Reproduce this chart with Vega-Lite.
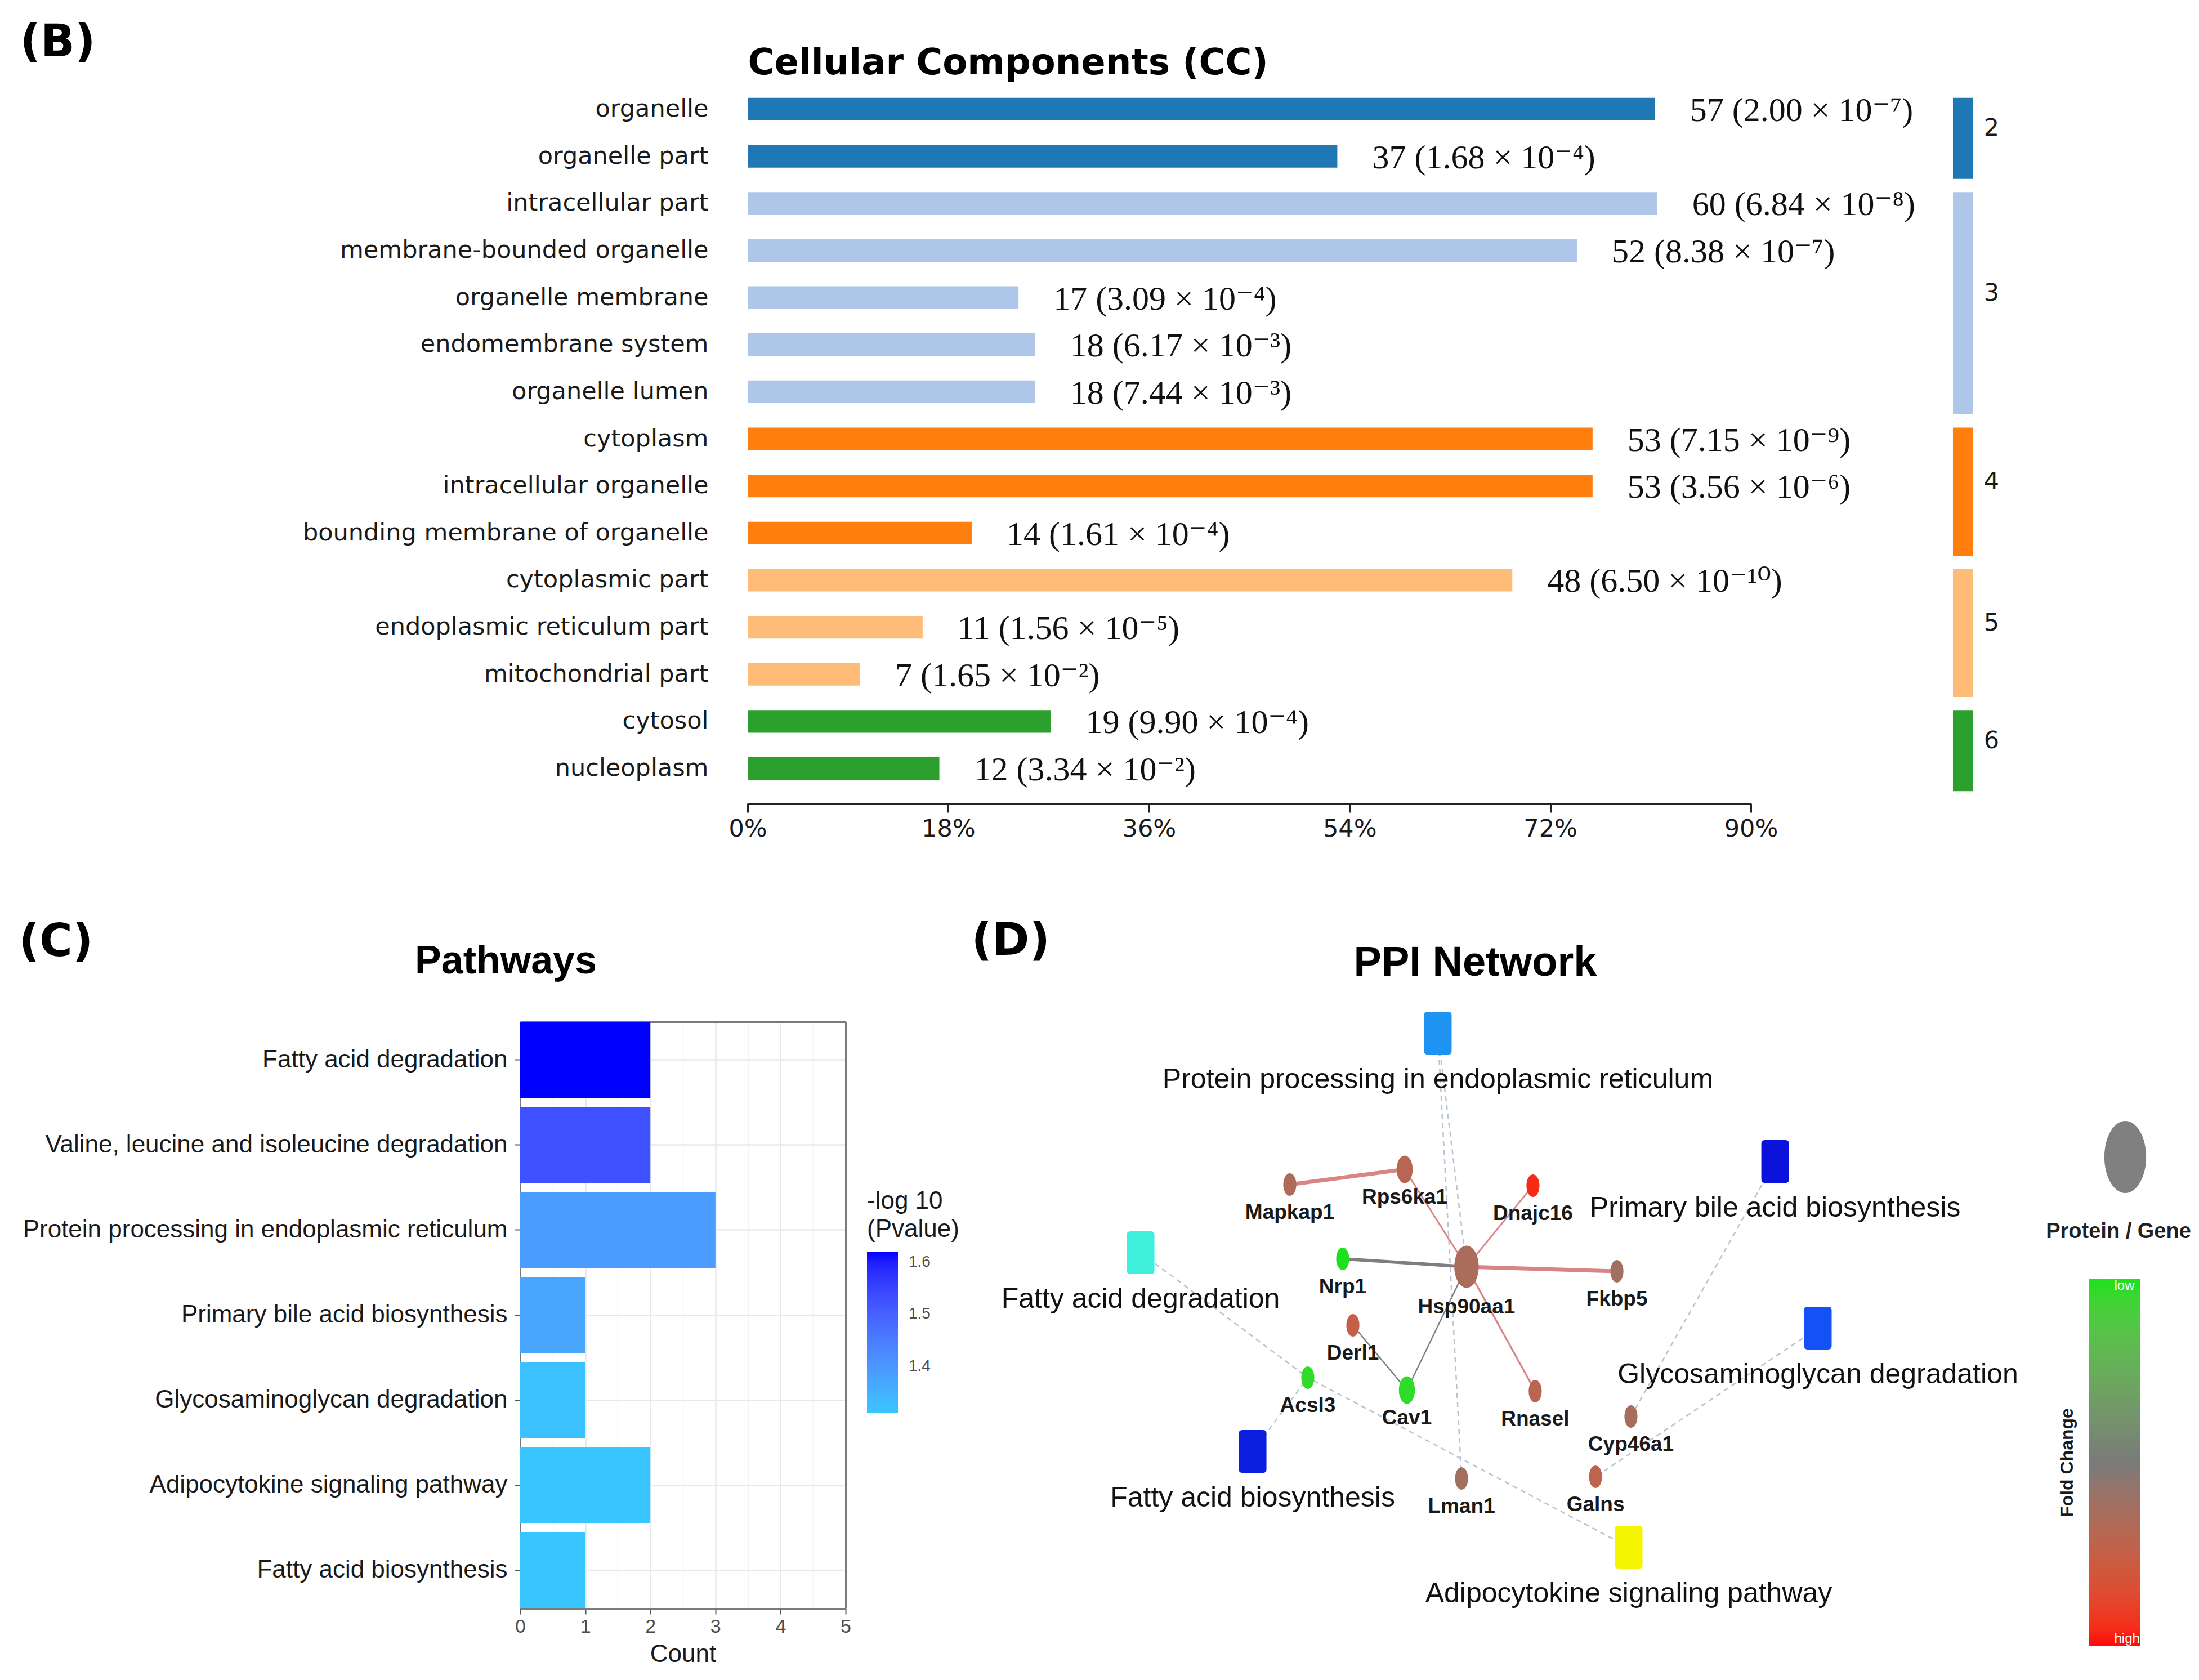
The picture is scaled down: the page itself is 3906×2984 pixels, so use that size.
{
  "$schema": "https://vega.github.io/schema/vega-lite/v6.json",
  "width": 3906,
  "height": 2984,
  "autosize": {"type": "none"},
  "padding": 0,
  "background": "white",
  "config": {
    "view": {"stroke": null},
    "axis": {"labelLimit": 3000, "titleLimit": 3000},
    "legend": {"labelLimit": 3000, "titleLimit": 3000}
  },
  "datasets": {
    "cc": [
      {"term": "organelle", "cluster": "2", "count": 57, "pct": 81.4, "label": "57 (2.00 × 10⁻⁷)"},
      {"term": "organelle part", "cluster": "2", "count": 37, "pct": 52.9, "label": "37 (1.68 × 10⁻⁴)"},
      {"term": "intracellular part", "cluster": "3", "count": 60, "pct": 81.6, "label": "60 (6.84 × 10⁻⁸)"},
      {"term": "membrane-bounded organelle", "cluster": "3", "count": 52, "pct": 74.4, "label": "52 (8.38 × 10⁻⁷)"},
      {"term": "organelle membrane", "cluster": "3", "count": 17, "pct": 24.3, "label": "17 (3.09 × 10⁻⁴)"},
      {"term": "endomembrane system", "cluster": "3", "count": 18, "pct": 25.8, "label": "18 (6.17 × 10⁻³)"},
      {"term": "organelle lumen", "cluster": "3", "count": 18, "pct": 25.8, "label": "18 (7.44 × 10⁻³)"},
      {"term": "cytoplasm", "cluster": "4", "count": 53, "pct": 75.8, "label": "53 (7.15 × 10⁻⁹)"},
      {"term": "intracellular organelle", "cluster": "4", "count": 53, "pct": 75.8, "label": "53 (3.56 × 10⁻⁶)"},
      {"term": "bounding membrane of organelle", "cluster": "4", "count": 14, "pct": 20.1, "label": "14 (1.61 × 10⁻⁴)"},
      {"term": "cytoplasmic part", "cluster": "5", "count": 48, "pct": 68.6, "label": "48 (6.50 × 10⁻¹⁰)"},
      {"term": "endoplasmic reticulum part", "cluster": "5", "count": 11, "pct": 15.7, "label": "11 (1.56 × 10⁻⁵)"},
      {"term": "mitochondrial part", "cluster": "5", "count": 7, "pct": 10.1, "label": "7 (1.65 × 10⁻²)"},
      {"term": "cytosol", "cluster": "6", "count": 19, "pct": 27.2, "label": "19 (9.90 × 10⁻⁴)"},
      {"term": "nucleoplasm", "cluster": "6", "count": 12, "pct": 17.2, "label": "12 (3.34 × 10⁻²)"}
    ],
    "clusters": [
      {"cluster": "2", "first": "organelle", "last": "organelle part", "labelRow": "organelle", "rows": 2},
      {"cluster": "3", "first": "intracellular part", "last": "organelle lumen", "labelRow": "organelle membrane", "rows": 5},
      {"cluster": "4", "first": "cytoplasm", "last": "bounding membrane of organelle", "labelRow": "intracellular organelle", "rows": 3},
      {"cluster": "5", "first": "cytoplasmic part", "last": "mitochondrial part", "labelRow": "endoplasmic reticulum part", "rows": 3},
      {"cluster": "6", "first": "cytosol", "last": "nucleoplasm", "labelRow": "cytosol", "rows": 2}
    ],
    "pw": [
      {"pathway": "Fatty acid degradation", "count": 2, "logp": 1.62},
      {"pathway": "Valine, leucine and isoleucine degradation", "count": 2, "logp": 1.53},
      {"pathway": "Protein processing in endoplasmic reticulum", "count": 3, "logp": 1.39},
      {"pathway": "Primary bile acid biosynthesis", "count": 1, "logp": 1.37},
      {"pathway": "Glycosaminoglycan degradation", "count": 1, "logp": 1.32},
      {"pathway": "Adipocytokine signaling pathway", "count": 2, "logp": 1.31},
      {"pathway": "Fatty acid biosynthesis", "count": 1, "logp": 1.31}
    ],
    "nodes": [
      {"id": "Protein processing in endoplasmic reticulum", "type": "pathway", "u": 38.71, "v": 18.16},
      {"id": "Fatty acid degradation", "type": "pathway", "u": 14.78, "v": 45.94},
      {"id": "Primary bile acid biosynthesis", "type": "pathway", "u": 65.87, "v": 34.40},
      {"id": "Glycosaminoglycan degradation", "type": "pathway", "u": 69.31, "v": 55.48},
      {"id": "Fatty acid biosynthesis", "type": "pathway", "u": 23.80, "v": 71.08},
      {"id": "Adipocytokine signaling pathway", "type": "pathway", "u": 54.08, "v": 83.19},
      {"id": "Mapkap1", "type": "gene", "u": 26.79, "v": 37.32, "fc": 0.32, "degree": 1},
      {"id": "Rps6ka1", "type": "gene", "u": 36.04, "v": 35.40, "fc": 0.38, "degree": 2},
      {"id": "Dnajc16", "type": "gene", "u": 46.37, "v": 37.46, "fc": 0.92, "degree": 1},
      {"id": "Hsp90aa1", "type": "gene", "u": 41.02, "v": 47.72, "fc": 0.30, "degree": 6},
      {"id": "Nrp1", "type": "gene", "u": 31.05, "v": 46.72, "fc": -1.0, "degree": 1},
      {"id": "Fkbp5", "type": "gene", "u": 53.13, "v": 48.29, "fc": 0.25, "degree": 1},
      {"id": "Derl1", "type": "gene", "u": 31.87, "v": 55.13, "fc": 0.50, "degree": 1},
      {"id": "Acsl3", "type": "gene", "u": 28.24, "v": 61.75, "fc": -0.95, "degree": 1},
      {"id": "Cav1", "type": "gene", "u": 36.22, "v": 63.32, "fc": -0.95, "degree": 2},
      {"id": "Rnasel", "type": "gene", "u": 46.55, "v": 63.46, "fc": 0.40, "degree": 1},
      {"id": "Cyp46a1", "type": "gene", "u": 54.26, "v": 66.67, "fc": 0.28, "degree": 1},
      {"id": "Lman1", "type": "gene", "u": 40.62, "v": 74.50, "fc": 0.25, "degree": 1},
      {"id": "Galns", "type": "gene", "u": 51.41, "v": 74.29, "fc": 0.45, "degree": 1}
    ],
    "edges": [
      {"source": "Mapkap1", "target": "Rps6ka1", "kind": "ppi", "regulation": "co-up", "score": 0.9},
      {"source": "Rps6ka1", "target": "Hsp90aa1", "kind": "ppi", "regulation": "co-up", "score": 0.4},
      {"source": "Dnajc16", "target": "Hsp90aa1", "kind": "ppi", "regulation": "co-up", "score": 0.4},
      {"source": "Nrp1", "target": "Hsp90aa1", "kind": "ppi", "regulation": "mixed", "score": 0.75},
      {"source": "Hsp90aa1", "target": "Fkbp5", "kind": "ppi", "regulation": "co-up", "score": 0.9},
      {"source": "Hsp90aa1", "target": "Rnasel", "kind": "ppi", "regulation": "co-up", "score": 0.45},
      {"source": "Hsp90aa1", "target": "Cav1", "kind": "ppi", "regulation": "mixed", "score": 0.35},
      {"source": "Derl1", "target": "Cav1", "kind": "ppi", "regulation": "mixed", "score": 0.35},
      {"source": "Protein processing in endoplasmic reticulum", "target": "Hsp90aa1", "kind": "pathway"},
      {"source": "Protein processing in endoplasmic reticulum", "target": "Lman1", "kind": "pathway"},
      {"source": "Fatty acid degradation", "target": "Acsl3", "kind": "pathway"},
      {"source": "Fatty acid biosynthesis", "target": "Acsl3", "kind": "pathway"},
      {"source": "Adipocytokine signaling pathway", "target": "Acsl3", "kind": "pathway"},
      {"source": "Primary bile acid biosynthesis", "target": "Cyp46a1", "kind": "pathway"},
      {"source": "Glycosaminoglycan degradation", "target": "Galns", "kind": "pathway"}
    ]
  },
  "layer": [
    {
      "layer": [
        {
          "data": {"name": "cc"},
          "mark": {"type": "bar"},
          "encoding": {
            "y": {
              "field": "term", "type": "nominal", "sort": null,
              "scale": {
                "domain": ["organelle", "organelle part", "intracellular part", "membrane-bounded organelle", "organelle membrane", "endomembrane system", "organelle lumen", "cytoplasm", "intracellular organelle", "bounding membrane of organelle", "cytoplasmic part", "endoplasmic reticulum part", "mitochondrial part", "cytosol", "nucleoplasm"],
                "range": [132, 1427], "paddingInner": 0.52, "paddingOuter": 0.5
              },
              "axis": {
                "orient": "left", "offset": -1328, "domain": false, "ticks": false, "grid": false,
                "labelPadding": 70, "labelFont": "DejaVu Sans", "labelFontSize": 43, "labelColor": "#1a1a1a",
                "title": "Cellular Components (CC)", "titleFont": "DejaVu Sans", "titleFontSize": 64, "titleFontWeight": "bold", "titleColor": "#000000",
                "titleAngle": 0, "titleAlign": "left", "titleBaseline": "alphabetic", "titleX": 0, "titleY": 131
              }
            },
            "x": {
              "field": "pct", "type": "quantitative",
              "scale": {"domain": [0, 90], "range": [1328, 3110], "nice": false},
              "axis": {
                "orient": "bottom", "offset": -1557, "values": [0, 18, 36, 54, 72, 90], "labelExpr": "datum.value + '%'",
                "labelFlush": false, "grid": false, "domainColor": "#222222", "domainWidth": 3, "tickColor": "#222222", "tickWidth": 3, "tickSize": 16,
                "labelPadding": 8, "labelFont": "DejaVu Sans", "labelFontSize": 43, "labelColor": "#1a1a1a",
                "title": "(B)", "titleFont": "DejaVu Sans", "titleFontSize": 80, "titleFontWeight": "bold", "titleColor": "#000000",
                "titleAngle": 0, "titleAlign": "left", "titleBaseline": "alphabetic", "titleX": 35, "titleY": -1328
              }
            },
            "color": {
              "field": "cluster", "type": "nominal",
              "scale": {"domain": ["2", "3", "4", "5", "6"], "range": ["#1f77b4", "#aec7e8", "#ff7f0e", "#ffbb78", "#2ca02c"]},
              "legend": null
            }
          }
        },
        {
          "data": {"name": "cc"},
          "mark": {"type": "text", "align": "left", "baseline": "middle", "dx": 62, "dy": 3, "font": "Liberation Serif, DejaVu Serif", "fontSize": 60, "color": "#111111"},
          "encoding": {
            "y": {"field": "term", "type": "nominal", "sort": null, "axis": null},
            "x": {"field": "pct", "type": "quantitative", "axis": null},
            "text": {"field": "label"}
          }
        },
        {
          "data": {"name": "clusters"},
          "mark": {"type": "rect"},
          "encoding": {
            "y": {"field": "first", "type": "nominal", "bandPosition": 0, "axis": null},
            "y2": {"field": "last", "bandPosition": 1.5},
            "x": {"datum": 108.13, "type": "quantitative", "axis": null},
            "x2": {"datum": 109.9},
            "color": {"field": "cluster", "type": "nominal", "legend": null}
          }
        },
        {
          "data": {"name": "clusters"},
          "transform": [{"filter": "datum.rows % 2 == 0"}],
          "mark": {"type": "text", "align": "left", "baseline": "middle", "font": "DejaVu Sans", "fontSize": 43, "color": "#1a1a1a"},
          "encoding": {
            "y": {"field": "labelRow", "type": "nominal", "bandPosition": 1.36, "axis": null},
            "x": {"datum": 110.9, "type": "quantitative", "axis": null},
            "text": {"field": "cluster"}
          }
        },
        {
          "data": {"name": "clusters"},
          "transform": [{"filter": "datum.rows % 2 == 1"}],
          "mark": {"type": "text", "align": "left", "baseline": "middle", "font": "DejaVu Sans", "fontSize": 43, "color": "#1a1a1a"},
          "encoding": {
            "y": {"field": "labelRow", "type": "nominal", "bandPosition": 0.32, "axis": null},
            "x": {"datum": 110.9, "type": "quantitative", "axis": null},
            "text": {"field": "cluster"}
          }
        }
      ],
      "resolve": {"axis": {"x": "independent", "y": "independent"}}
    },
    {
      "data": {"name": "pw"},
      "layer": [
        {
          "mark": {"type": "bar"},
          "encoding": {
            "y": {
              "field": "pathway", "type": "nominal", "sort": null,
              "scale": {
                "domain": ["Fatty acid degradation", "Valine, leucine and isoleucine degradation", "Protein processing in endoplasmic reticulum", "Primary bile acid biosynthesis", "Glycosaminoglycan degradation", "Adipocytokine signaling pathway", "Fatty acid biosynthesis"],
                "range": [1815, 2857], "paddingInner": 0.1, "paddingOuter": 0
              },
              "axis": {
                "orient": "left", "offset": -924, "grid": true, "gridColor": "#e8e8e8", "gridWidth": 2.5, "tickBand": "center",
                "domainColor": "#7a7a7a", "domainWidth": 3, "tickColor": "#555555", "tickWidth": 2, "tickSize": 10,
                "labelPadding": 13, "labelFont": "Liberation Sans", "labelFontSize": 44, "labelColor": "#1a1a1a",
                "title": "(C)", "titleFont": "DejaVu Sans", "titleFontSize": 80, "titleFontWeight": "bold", "titleColor": "#000000",
                "titleAngle": 0, "titleAlign": "left", "titleBaseline": "alphabetic", "titleX": -891, "titleY": 1697
              }
            },
            "x": {
              "field": "count", "type": "quantitative",
              "scale": {"domain": [0, 5], "range": [924, 1502], "nice": false},
              "axis": {
                "orient": "bottom", "offset": -127, "values": [0, 1, 2, 3, 4, 5], "grid": false,
                "domainColor": "#7a7a7a", "domainWidth": 3, "tickColor": "#555555", "tickWidth": 2, "tickSize": 10,
                "labelFlush": false, "labelFont": "Liberation Sans", "labelFontSize": 34, "labelColor": "#4d4d4d", "labelPadding": 5,
                "title": "Count", "titleFont": "Liberation Sans", "titleFontSize": 44, "titleFontWeight": "normal", "titleColor": "#1a1a1a",
                "titleAngle": 0, "titleAlign": "center", "titleBaseline": "alphabetic", "titleX": 1213, "titleY": 94
              }
            },
            "color": {
              "field": "logp", "type": "quantitative",
              "scale": {"domain": [1.31, 1.62], "range": ["#37c6ff", "#0000ff"], "interpolate": "lab", "nice": false, "zero": false},
              "legend": {
                "orient": "none", "legendX": 1540, "legendY": 2112, "direction": "vertical",
                "title": ["-log 10", "(Pvalue)"], "titleFont": "Liberation Sans", "titleFontSize": 44, "titleFontWeight": "normal", "titleColor": "#1a1a1a",
                "titleLineHeight": 50, "titlePadding": 17,
                "gradientLength": 287, "gradientThickness": 55, "gradientStrokeWidth": 0,
                "values": [1.4, 1.5, 1.6], "labelFont": "Liberation Sans", "labelFontSize": 28, "labelColor": "#4d4d4d", "labelOffset": 19, "labelOverlap": false,
                "padding": 0
              }
            }
          }
        },
        {
          "mark": {"type": "bar", "opacity": 0},
          "encoding": {
            "y": {
              "field": "pathway", "type": "nominal", "sort": null,
              "axis": {"orient": "right", "offset": -2404, "grid": false, "ticks": false, "labels": false, "domainColor": "#7a7a7a", "domainWidth": 3, "title": null}
            },
            "x": {
              "field": "count", "type": "quantitative",
              "axis": {
                "orient": "top", "offset": -1815, "values": [0, 1, 2, 3, 4, 5], "grid": true, "gridColor": "#e8e8e8", "gridWidth": 2.5,
                "ticks": false, "labels": false, "domainColor": "#7a7a7a", "domainWidth": 3,
                "title": "Pathways", "titleFont": "Liberation Sans", "titleFontSize": 70, "titleFontWeight": "bold", "titleColor": "#000000",
                "titleAngle": 0, "titleAlign": "center", "titleBaseline": "alphabetic", "titleX": 898, "titleY": -87
              }
            }
          }
        },
        {
          "mark": {"type": "bar", "opacity": 0},
          "encoding": {
            "y": {"field": "pathway", "type": "nominal", "sort": null, "axis": null},
            "x": {
              "field": "count", "type": "quantitative",
              "axis": {
                "orient": "top", "offset": -1815, "values": [0.5, 1.5, 2.5, 3.5, 4.5], "grid": true, "gridColor": "#f3f3f3", "gridWidth": 1.5,
                "domain": false, "ticks": false, "labels": false, "title": null
              }
            }
          }
        }
      ],
      "resolve": {"axis": {"x": "independent", "y": "independent"}}
    },
    {
      "layer": [
        {
          "data": {"name": "edges"},
          "transform": [
            {"filter": "datum.kind == 'pathway'"},
            {"lookup": "source", "from": {"data": {"name": "nodes"}, "key": "id", "fields": ["u", "v"]}, "as": ["su", "sv"]},
            {"lookup": "target", "from": {"data": {"name": "nodes"}, "key": "id", "fields": ["u", "v"]}, "as": ["tu", "tv"]}
          ],
          "mark": {"type": "rule", "color": "#b8c4d0", "strokeWidth": 2.5, "strokeDash": [9, 7]},
          "encoding": {
            "x": {
              "field": "su", "type": "quantitative",
              "scale": {"domain": [0, 100], "range": [1700, 3906], "nice": false, "zero": false},
              "axis": {
                "orient": "top", "offset": 0, "domain": true, "domainOpacity": 0, "ticks": false, "labels": false, "grid": false,
                "title": "PPI Network", "titleFont": "Liberation Sans", "titleFontSize": 74, "titleFontWeight": "bold", "titleColor": "#000000",
                "titleAngle": 0, "titleAlign": "center", "titleBaseline": "alphabetic", "titleX": 2620, "titleY": 1732
              }
            },
            "y": {
              "field": "sv", "type": "quantitative",
              "scale": {"domain": [0, 100], "range": [1580, 2984], "nice": false, "zero": false},
              "axis": {
                "orient": "left", "offset": 0, "domain": true, "domainOpacity": 0, "ticks": false, "labels": false, "grid": false,
                "title": "(D)", "titleFont": "DejaVu Sans", "titleFontSize": 80, "titleFontWeight": "bold", "titleColor": "#000000",
                "titleAngle": 0, "titleAlign": "left", "titleBaseline": "alphabetic", "titleX": 1725, "titleY": 1695
              }
            },
            "x2": {"field": "tu"},
            "y2": {"field": "tv"}
          }
        },
        {
          "data": {"name": "edges"},
          "transform": [
            {"filter": "datum.kind == 'ppi'"},
            {"lookup": "source", "from": {"data": {"name": "nodes"}, "key": "id", "fields": ["u", "v"]}, "as": ["su", "sv"]},
            {"lookup": "target", "from": {"data": {"name": "nodes"}, "key": "id", "fields": ["u", "v"]}, "as": ["tu", "tv"]}
          ],
          "mark": {"type": "rule"},
          "encoding": {
            "x": {"field": "su", "type": "quantitative", "axis": null},
            "y": {"field": "sv", "type": "quantitative", "axis": null},
            "x2": {"field": "tu"},
            "y2": {"field": "tv"},
            "stroke": {"field": "regulation", "type": "nominal", "scale": {"domain": ["co-up", "mixed"], "range": ["#d98585", "#7e7e7e"]}, "legend": null},
            "strokeWidth": {"field": "score", "type": "quantitative", "scale": {"domain": [0.3, 0.9], "range": [2, 7], "zero": false}, "legend": null}
          }
        },
        {
          "data": {"name": "nodes"},
          "transform": [{"filter": "datum.type == 'pathway'"}],
          "mark": {"type": "point", "filled": true, "opacity": 1, "size": 5776, "strokeWidth": 0,
                   "shape": "M-0.48,-1L0.48,-1Q0.645,-1 0.645,-0.84L0.645,0.84Q0.645,1 0.48,1L-0.48,1Q-0.645,1 -0.645,0.84L-0.645,-0.84Q-0.645,-1 -0.48,-1Z"},
          "encoding": {
            "x": {"field": "u", "type": "quantitative", "axis": null},
            "y": {"field": "v", "type": "quantitative", "axis": null},
            "color": {
              "field": "id", "type": "nominal",
              "scale": {
                "domain": ["Protein processing in endoplasmic reticulum", "Fatty acid degradation", "Primary bile acid biosynthesis", "Glycosaminoglycan degradation", "Fatty acid biosynthesis", "Adipocytokine signaling pathway"],
                "range": ["#1f93f2", "#3ff0dc", "#0a12dc", "#1452f5", "#0a1ee0", "#f5f500"]
              },
              "legend": null
            }
          }
        },
        {
          "data": {"name": "nodes"},
          "transform": [{"filter": "datum.type == 'gene'"}],
          "mark": {"type": "point", "filled": true, "opacity": 1, "strokeWidth": 0},
          "encoding": {
            "x": {"field": "u", "type": "quantitative", "axis": null},
            "y": {"field": "v", "type": "quantitative", "axis": null},
            "color": {
              "field": "fc", "type": "quantitative",
              "scale": {"domain": [1, 0, -1], "range": ["#ff0a0a", "#7a7a7a", "#1ee01e"], "zero": false, "nice": false},
              "legend": {
                "orient": "none", "legendX": 3656, "legendY": 2272, "direction": "vertical",
                "gradientLength": 651, "gradientThickness": 91, "gradientStrokeWidth": 0,
                "values": [-1, 1], "labelExpr": "datum.value < 0 ? 'low' : 'high'",
                "labelColor": "#ffffff", "labelFont": "Liberation Sans", "labelFontSize": 24, "labelOffset": -45.5, "labelAlign": "center", "labelOverlap": false,
                "title": "Fold Change", "titleOrient": "left", "titleAnchor": "middle", "titleFont": "Liberation Sans", "titleFontSize": 32, "titleFontWeight": "bold", "titleColor": "#1a1a1a", "titlePadding": 20,
                "padding": 0
              }
            },
            "size": {"field": "degree", "type": "quantitative", "scale": {"domain": [1, 6], "range": [1600, 5600], "zero": false}, "legend": null},
            "shape": {
              "datum": "Protein / Gene", "type": "nominal",
              "scale": {"range": ["M0,-1A0.58,1 0 1,1 0,1A0.58,1 0 1,1 0,-1Z"]},
              "legend": {
                "orient": "none", "legendX": 3634, "legendY": 1991,
                "title": "Protein / Gene", "titleOrient": "bottom", "titleAnchor": "middle", "titleFont": "Liberation Sans", "titleFontSize": 38, "titleFontWeight": "bold", "titleColor": "#222222", "titlePadding": 50,
                "symbolSize": 16384, "symbolFillColor": "#808080", "symbolStrokeWidth": 0, "symbolOpacity": 1, "symbolOffset": 28,
                "labelExpr": "''", "padding": 0
              }
            }
          }
        },
        {
          "data": {"name": "nodes"},
          "transform": [{"filter": "datum.type == 'gene' && datum.id != 'Hsp90aa1'"}],
          "mark": {"type": "text", "dy": 50, "font": "Liberation Sans", "fontSize": 37, "fontWeight": "bold", "color": "#1a1a1a"},
          "encoding": {
            "x": {"field": "u", "type": "quantitative", "axis": null},
            "y": {"field": "v", "type": "quantitative", "axis": null},
            "text": {"field": "id"}
          }
        },
        {
          "data": {"name": "nodes"},
          "transform": [{"filter": "datum.id == 'Hsp90aa1'"}],
          "mark": {"type": "text", "dy": 72, "font": "Liberation Sans", "fontSize": 37, "fontWeight": "bold", "color": "#1a1a1a"},
          "encoding": {
            "x": {"field": "u", "type": "quantitative", "axis": null},
            "y": {"field": "v", "type": "quantitative", "axis": null},
            "text": {"field": "id"}
          }
        },
        {
          "data": {"name": "nodes"},
          "transform": [{"filter": "datum.type == 'pathway'"}],
          "mark": {"type": "text", "dy": 83, "font": "Liberation Sans", "fontSize": 50, "color": "#111111"},
          "encoding": {
            "x": {"field": "u", "type": "quantitative", "axis": null},
            "y": {"field": "v", "type": "quantitative", "axis": null},
            "text": {"field": "id"}
          }
        }
      ],
      "resolve": {"scale": {"color": "independent"}, "axis": {"x": "independent", "y": "independent"}}
    }
  ],
  "resolve": {"scale": {"x": "independent", "y": "independent", "color": "independent"}}
}
